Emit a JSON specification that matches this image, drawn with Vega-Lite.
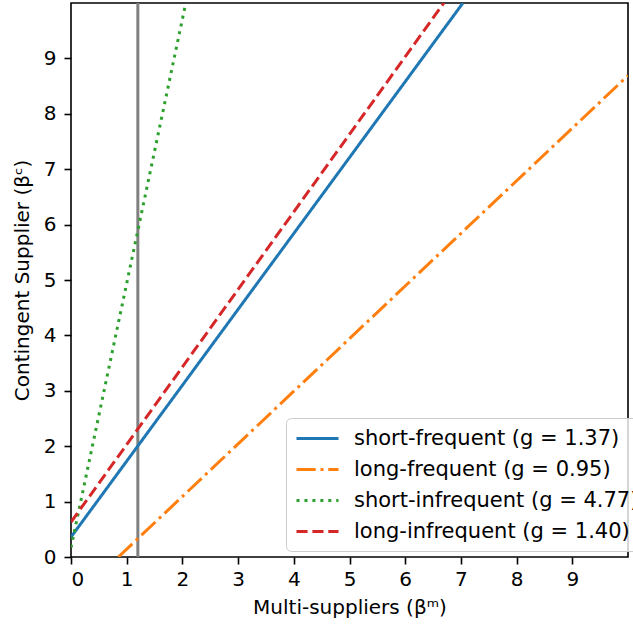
{
  "$schema": "https://vega.github.io/schema/vega-lite/v6.json",
  "width": 557,
  "height": 554,
  "autosize": {"type": "none"},
  "padding": {"left": 71, "top": 3, "right": 5, "bottom": 71},
  "config": {
    "font": "DejaVu Sans",
    "view": {"stroke": "black", "strokeWidth": 1.6},
    "axis": {
      "grid": false,
      "domain": false,
      "tickColor": "black",
      "tickSize": 7,
      "tickWidth": 1.6,
      "labelFontSize": 20,
      "labelColor": "black",
      "titleFontSize": 20,
      "titleFontWeight": "normal",
      "titleColor": "black"
    }
  },
  "datasets": {
    "lines": [
      {"series": "short-frequent (g = 1.37)", "x": 0, "y": 0.36},
      {"series": "short-frequent (g = 1.37)", "x": 7.036, "y": 10},
      {"series": "long-frequent (g = 0.95)", "x": 0.85, "y": 0},
      {"series": "long-frequent (g = 0.95)", "x": 10, "y": 8.69},
      {"series": "short-infrequent (g = 4.77)", "x": 0, "y": 0.17},
      {"series": "short-infrequent (g = 4.77)", "x": 2.061, "y": 10},
      {"series": "long-infrequent (g = 1.40)", "x": 0, "y": 0.63},
      {"series": "long-infrequent (g = 1.40)", "x": 6.693, "y": 10}
    ],
    "vline": [{"x": 1.2}]
  },
  "layer": [
    {
      "data": {"name": "vline"},
      "mark": {"type": "rule", "color": "#808080", "strokeWidth": 3},
      "encoding": {
        "x": {"field": "x", "type": "quantitative", "scale": {"domain": [0, 10]}}
      }
    },
    {
      "data": {"name": "lines"},
      "mark": {"type": "line", "strokeWidth": 3, "clip": true},
      "encoding": {
        "x": {
          "field": "x", "type": "quantitative",
          "scale": {"domain": [0, 10], "nice": false, "zero": false},
          "axis": {"values": [0,1,2,3,4,5,6,7,8,9], "title": "Multi-suppliers (βᵐ)", "labelPadding": 5, "titlePadding": 8}
        },
        "y": {
          "field": "y", "type": "quantitative",
          "scale": {"domain": [0, 10], "nice": false, "zero": false},
          "axis": {"values": [0,1,2,3,4,5,6,7,8,9], "title": "Contingent Supplier (βᶜ)", "labelPadding": 8, "titlePadding": 11}
        },
        "color": {
          "field": "series", "type": "nominal",
          "scale": {
            "domain": ["short-frequent (g = 1.37)", "long-frequent (g = 0.95)", "short-infrequent (g = 4.77)", "long-infrequent (g = 1.40)"],
            "range": ["#1f77b4", "#ff7f0e", "#2ca02c", "#d62728"]
          },
          "legend": {
            "title": null,
            "orient": "none",
            "legendX": 215,
            "legendY": 415,
            "symbolType": "M-1,0H3.2",
            "symbolSize": 400,
            "symbolStrokeWidth": 3,
            "labelFontSize": 21,
            "labelColor": "black",
            "labelOffset": 36,
            "rowPadding": 9,
            "padding": 9,
            "cornerRadius": 5,
            "strokeColor": "#cccccc",
            "fillColor": "rgba(255,255,255,0.8)",
            "labelLimit": 500
          }
        },
        "strokeDash": {
          "field": "series", "type": "nominal",
          "scale": {
            "domain": ["short-frequent (g = 1.37)", "long-frequent (g = 0.95)", "short-infrequent (g = 4.77)", "long-infrequent (g = 1.40)"],
            "range": [[1, 0], [19.2, 4.8, 3, 4.8], [3, 4.95], [11.1, 4.8]]
          },
          "legend": null
        }
      }
    }
  ]
}
